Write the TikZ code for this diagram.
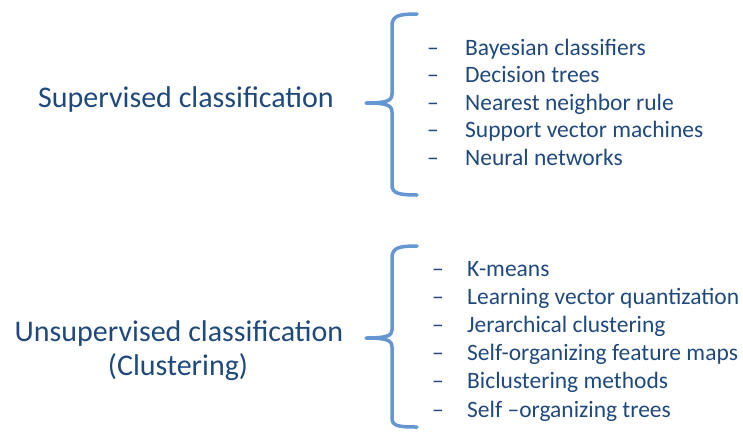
\documentclass[tikz,border=0pt]{standalone}
\usepackage{fontspec}
\setmainfont{Carlito}
\definecolor{txtblue}{RGB}{31,73,125}
\definecolor{brblue}{RGB}{100,150,210}
\begin{document}
\begin{tikzpicture}[x=1pt,y=-1pt,
  brace/.style={draw=brblue,line width=3.5pt,line cap=round,line join=round},
  head/.style={text=txtblue,font=\fontsize{30}{36}\selectfont,anchor=base,inner sep=0pt},
  item/.style={text=txtblue,font=\fontsize{23.5}{28}\selectfont,anchor=base west,inner sep=0pt}]
\useasboundingbox (0,0) rectangle (743,431);
% braces
\draw[brace] (417,14) .. controls (398,14) and (392,16) .. (392,26) -- (392,94)
  .. controls (392,101) and (386,103) .. (366,103)
  .. controls (386,103) and (392,105) .. (392,112) -- (392,185)
  .. controls (392,193) and (398,195) .. (417,195);
\draw[brace] (417,246) .. controls (398,246) and (392,248) .. (392,258) -- (392,330)
  .. controls (392,336) and (386,338) .. (366,338)
  .. controls (386,338) and (392,340) .. (392,347) -- (392,418)
  .. controls (392,426) and (398,427) .. (417,427);
% headings
\node[head] (sup) at (186,107) {Supervised classification};
\node[head] (uns) at (179,341) {Unsupervised classification};
\node[head] (clu) at (178,375) {(Clustering)};
% list 1
\foreach \t [count=\i] in {Bayesian classifiers,Decision trees,Nearest neighbor rule,Support vector machines,Neural networks}{
  \node[item] (d1\i) at (427,{55+27.6*(\i-1)}) {–};
  \node[item] (a\i) at (465,{55+27.6*(\i-1)}) {\t};
}
% list 2
\foreach \t [count=\i] in {K-means,Learning vector quantization,Jerarchical clustering,Self-organizing feature maps,Biclustering methods,Self –organizing trees}{
  \node[item] (d2\i) at (432,{276.5+28.1*(\i-1)}) {–};
  \node[item] (b\i) at (467,{276.5+28.1*(\i-1)}) {\t};
}
\end{tikzpicture}
\end{document}
